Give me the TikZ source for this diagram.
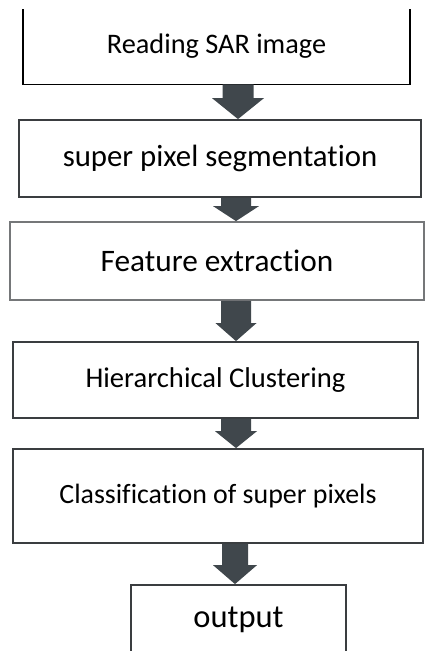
\documentclass[tikz,border=0pt]{standalone}
\usepackage{fontspec}
\setmainfont{Carlito}[Ligatures=NoCommon]
\usetikzlibrary{calc}
\definecolor{arrowcol}{HTML}{40474C}
\definecolor{edgecol}{HTML}{3A3D40}
\tikzset{
  box/.style={draw=edgecol, line width=1.8pt, rectangle, inner sep=0pt, text=black},
  fs/.style={font=\fontsize{#1}{#1}\selectfont},
}
\newcommand\blockarrow[6]{%
  \fill[arrowcol] let \p1=(#1.south), \p2=(#2.north) in
    ({(#3-#4/2)*1pt},\y1) -- ({(#3+#4/2)*1pt},\y1) -- ({(#3+#4/2)*1pt},{\y2+#6*1pt})
    -- ({(#3+#5/2)*1pt},{\y2+#6*1pt}) -- ({#3*1pt},\y2) -- ({(#3-#5/2)*1pt},{\y2+#6*1pt})
    -- ({(#3-#4/2)*1pt},{\y2+#6*1pt}) -- cycle;}
\begin{document}
\begin{tikzpicture}[x=1pt,y=-1pt]
\useasboundingbox (0,0) rectangle (425,651);
\clip (0,0) rectangle (425,651);
\fill[white] (0,0) rectangle (425,651);
\node[box, draw=none, fs=28.3, minimum width=385pt, minimum height=75pt] (b1) at (216.5,46) {Reading SAR image};
\draw[black, line width=1.8pt] ($(b1.north west)+(0,1.5)$) -- (b1.south west) -- (b1.south east) -- ($(b1.north east)+(0,1.5)$);
\node[box, fs=30.8, minimum width=402pt, minimum height=77pt] (b2) at (220,158.5) {super pixel segmentation};
\node[box, fs=31.3, draw=edgecol!70, minimum width=414pt, minimum height=78pt] (b3) at (217,261) {Feature extraction};
\node[box, fs=28.6, minimum width=405pt, minimum height=76pt] (b4) at (215.5,380) {Hierarchical Clustering};
\node[box, fs=27.9, minimum width=410pt, minimum height=94pt] (b5) at (218,496) {Classification of super pixels};
\node[box, fs=32.5, minimum width=215pt, minimum height=70pt] (b6) at (238.5,620) {output};
\blockarrow{b1}{b2}{238}{31}{52}{21}
\blockarrow{b2}{b3}{236}{30}{46}{15}
\blockarrow{b3}{b4}{236}{30}{41}{18}
\blockarrow{b4}{b5}{236}{30}{42}{17}
\blockarrow{b5}{b6}{235}{26}{44}{19}
\end{tikzpicture}
\end{document}
